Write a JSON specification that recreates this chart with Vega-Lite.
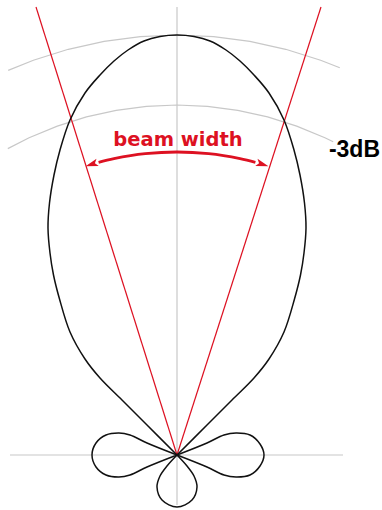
{
  "$schema": "https://vega.github.io/schema/vega-lite/v6.json",
  "width": 382,
  "height": 510,
  "padding": 0,
  "autosize": "none",
  "background": "white",
  "config": {"view": {"stroke": null}},
  "encoding": {
    "x": {"field": "x", "type": "quantitative", "scale": {"domain": [-177, 205], "nice": false, "zero": false}, "axis": null},
    "y": {"field": "y", "type": "quantitative", "scale": {"domain": [-55, 455], "nice": false, "zero": false}, "axis": null}
  },
  "layer": [
    {
      "data": {"values": [
        {"g": "h", "o": 0, "x": -167, "y": 0}, {"g": "h", "o": 1, "x": 166, "y": 0},
        {"g": "v", "o": 0, "x": 0, "y": 448}, {"g": "v", "o": 1, "x": 0, "y": -50},
        {"g": "outer", "o": 0, "x": -168.8, "y": 384.6},
        {"g": "outer", "o": 1, "x": -143.6, "y": 394.7},
        {"g": "outer", "o": 2, "x": -108.7, "y": 405.7},
        {"g": "outer", "o": 3, "x": -72.9, "y": 413.6},
        {"g": "outer", "o": 4, "x": -36.6, "y": 418.4},
        {"g": "outer", "o": 5, "x": 0, "y": 420},
        {"g": "outer", "o": 6, "x": 36.6, "y": 418.4},
        {"g": "outer", "o": 7, "x": 72.9, "y": 413.6},
        {"g": "outer", "o": 8, "x": 108.7, "y": 405.7},
        {"g": "outer", "o": 9, "x": 143.6, "y": 394.7},
        {"g": "outer", "o": 10, "x": 162.8, "y": 387.2},
        {"g": "inner", "o": 0, "x": -169.2, "y": 306.4},
        {"g": "inner", "o": 1, "x": -147.9, "y": 317.2},
        {"g": "inner", "o": 2, "x": -119.7, "y": 328.9},
        {"g": "inner", "o": 3, "x": -90.6, "y": 338.1},
        {"g": "inner", "o": 4, "x": -60.8, "y": 344.7},
        {"g": "inner", "o": 5, "x": -30.5, "y": 348.7},
        {"g": "inner", "o": 6, "x": 0, "y": 350},
        {"g": "inner", "o": 7, "x": 30.5, "y": 348.7},
        {"g": "inner", "o": 8, "x": 60.8, "y": 344.7},
        {"g": "inner", "o": 9, "x": 90.6, "y": 338.1},
        {"g": "inner", "o": 10, "x": 119.7, "y": 328.9},
        {"g": "inner", "o": 11, "x": 147.9, "y": 317.2},
        {"g": "inner", "o": 12, "x": 156.2, "y": 313.2}
      ]},
      "mark": {"type": "line", "color": "#c8c8c8", "strokeWidth": 1.2},
      "encoding": {"detail": {"field": "g"}, "order": {"field": "o", "type": "quantitative"}}
    },
    {
      "data": {"values": [
        {"g": "l", "o": 0, "x": 0, "y": 0}, {"g": "l", "o": 1, "x": -141, "y": 448},
        {"g": "r", "o": 0, "x": 0, "y": 0}, {"g": "r", "o": 1, "x": 144, "y": 448}
      ]},
      "mark": {"type": "line", "color": "#dd1122", "strokeWidth": 1.2},
      "encoding": {"detail": {"field": "g"}, "order": {"field": "o", "type": "quantitative"}}
    },
    {
      "data": {"values": [
        {"lobe": "main", "o": 0, "x": 0, "y": 0},
        {"lobe": "main", "o": 1, "x": -30, "y": 30},
        {"lobe": "main", "o": 2, "x": -55, "y": 55},
        {"lobe": "main", "o": 3, "x": -77, "y": 77},
        {"lobe": "main", "o": 4, "x": -92, "y": 96},
        {"lobe": "main", "o": 5, "x": -107, "y": 123},
        {"lobe": "main", "o": 6, "x": -117.5, "y": 156},
        {"lobe": "main", "o": 7, "x": -123.5, "y": 180},
        {"lobe": "main", "o": 8, "x": -127, "y": 202},
        {"lobe": "main", "o": 9, "x": -129, "y": 227},
        {"lobe": "main", "o": 10, "x": -127.5, "y": 252},
        {"lobe": "main", "o": 11, "x": -123, "y": 280},
        {"lobe": "main", "o": 12, "x": -117, "y": 305},
        {"lobe": "main", "o": 13, "x": -107, "y": 335},
        {"lobe": "main", "o": 14, "x": -92, "y": 362},
        {"lobe": "main", "o": 15, "x": -77, "y": 380},
        {"lobe": "main", "o": 16, "x": -63, "y": 394},
        {"lobe": "main", "o": 17, "x": -49, "y": 405},
        {"lobe": "main", "o": 18, "x": -33, "y": 414},
        {"lobe": "main", "o": 19, "x": -17, "y": 418.5},
        {"lobe": "main", "o": 20, "x": 0, "y": 420},
        {"lobe": "main", "o": 21, "x": 17, "y": 418.5},
        {"lobe": "main", "o": 22, "x": 33, "y": 414},
        {"lobe": "main", "o": 23, "x": 49, "y": 405},
        {"lobe": "main", "o": 24, "x": 63, "y": 394},
        {"lobe": "main", "o": 25, "x": 77, "y": 380},
        {"lobe": "main", "o": 26, "x": 92, "y": 362},
        {"lobe": "main", "o": 27, "x": 107, "y": 335},
        {"lobe": "main", "o": 28, "x": 117, "y": 305},
        {"lobe": "main", "o": 29, "x": 123, "y": 280},
        {"lobe": "main", "o": 30, "x": 127.5, "y": 252},
        {"lobe": "main", "o": 31, "x": 129, "y": 227},
        {"lobe": "main", "o": 32, "x": 127, "y": 202},
        {"lobe": "main", "o": 33, "x": 123.5, "y": 180},
        {"lobe": "main", "o": 34, "x": 117.5, "y": 156},
        {"lobe": "main", "o": 35, "x": 107, "y": 123},
        {"lobe": "main", "o": 36, "x": 92, "y": 96},
        {"lobe": "main", "o": 37, "x": 77, "y": 77},
        {"lobe": "main", "o": 38, "x": 55, "y": 55},
        {"lobe": "main", "o": 39, "x": 30, "y": 30},
        {"lobe": "main", "o": 40, "x": 0, "y": 0},
        {"lobe": "left", "o": 0, "x": 0, "y": 0},
        {"lobe": "left", "o": 1, "x": -30, "y": 12},
        {"lobe": "left", "o": 2, "x": -47, "y": 20},
        {"lobe": "left", "o": 3, "x": -58, "y": 22},
        {"lobe": "left", "o": 4, "x": -71, "y": 20},
        {"lobe": "left", "o": 5, "x": -81, "y": 12},
        {"lobe": "left", "o": 6, "x": -85, "y": 0},
        {"lobe": "left", "o": 7, "x": -81, "y": -12},
        {"lobe": "left", "o": 8, "x": -71, "y": -20},
        {"lobe": "left", "o": 9, "x": -58, "y": -22},
        {"lobe": "left", "o": 10, "x": -47, "y": -20},
        {"lobe": "left", "o": 11, "x": -30, "y": -12},
        {"lobe": "left", "o": 12, "x": 0, "y": 0},
        {"lobe": "right", "o": 0, "x": 0, "y": 0},
        {"lobe": "right", "o": 1, "x": 30, "y": 12},
        {"lobe": "right", "o": 2, "x": 47, "y": 20},
        {"lobe": "right", "o": 3, "x": 59, "y": 22},
        {"lobe": "right", "o": 4, "x": 73, "y": 20},
        {"lobe": "right", "o": 5, "x": 83, "y": 11},
        {"lobe": "right", "o": 6, "x": 87, "y": 0},
        {"lobe": "right", "o": 7, "x": 83, "y": -11},
        {"lobe": "right", "o": 8, "x": 73, "y": -20},
        {"lobe": "right", "o": 9, "x": 59, "y": -22},
        {"lobe": "right", "o": 10, "x": 47, "y": -20},
        {"lobe": "right", "o": 11, "x": 30, "y": -12},
        {"lobe": "right", "o": 12, "x": 0, "y": 0},
        {"lobe": "bottom", "o": 0, "x": 0, "y": 0},
        {"lobe": "bottom", "o": 1, "x": -10, "y": -11},
        {"lobe": "bottom", "o": 2, "x": -17, "y": -21},
        {"lobe": "bottom", "o": 3, "x": -20, "y": -32},
        {"lobe": "bottom", "o": 4, "x": -15, "y": -45},
        {"lobe": "bottom", "o": 5, "x": 0, "y": -52},
        {"lobe": "bottom", "o": 6, "x": 15, "y": -45},
        {"lobe": "bottom", "o": 7, "x": 20, "y": -32},
        {"lobe": "bottom", "o": 8, "x": 17, "y": -21},
        {"lobe": "bottom", "o": 9, "x": 10, "y": -11},
        {"lobe": "bottom", "o": 10, "x": 0, "y": 0}
      ]},
      "mark": {"type": "line", "color": "#111111", "strokeWidth": 1.5, "interpolate": "catmull-rom"},
      "encoding": {"detail": {"field": "lobe"}, "order": {"field": "o", "type": "quantitative"}}
    },
    {
      "data": {"values": [
        {"o": 0, "x": -78.4, "y": 292.7},
        {"o": 1, "x": -63.0, "y": 296.4},
        {"o": 2, "x": -31.7, "y": 301.3},
        {"o": 3, "x": 0, "y": 303},
        {"o": 4, "x": 31.7, "y": 301.3},
        {"o": 5, "x": 63.0, "y": 296.4},
        {"o": 6, "x": 78.4, "y": 292.7}
      ]},
      "mark": {"type": "line", "color": "#dd1122", "strokeWidth": 2.8, "interpolate": "catmull-rom"},
      "encoding": {"order": {"field": "o", "type": "quantitative"}}
    },
    {
      "data": {"values": [{"x": -85.4, "y": 290.7}]},
      "mark": {"type": "point", "shape": "M-1,0L1,-0.6L0.55,0L1,0.6Z", "filled": true, "color": "#dd1122", "opacity": 1, "size": 160, "angle": -17.5}
    },
    {
      "data": {"values": [{"x": 85.4, "y": 290.7}]},
      "mark": {"type": "point", "shape": "M-1,0L1,-0.6L0.55,0L1,0.6Z", "filled": true, "color": "#dd1122", "opacity": 1, "size": 160, "angle": 197.5}
    },
    {
      "data": {"values": [{"x": 1, "y": 309, "label": "beam width"}]},
      "mark": {"type": "text", "font": "DejaVu Sans", "fontWeight": "bold", "fontSize": 19.5, "color": "#dd1122", "align": "center", "baseline": "alphabetic"},
      "encoding": {"text": {"field": "label"}}
    },
    {
      "data": {"values": [{"x": 203, "y": 298, "label": "-3dB"}]},
      "mark": {"type": "text", "font": "Liberation Sans", "fontWeight": "bold", "fontSize": 23, "color": "#000000", "align": "right", "baseline": "alphabetic"},
      "encoding": {"text": {"field": "label"}}
    }
  ]
}
